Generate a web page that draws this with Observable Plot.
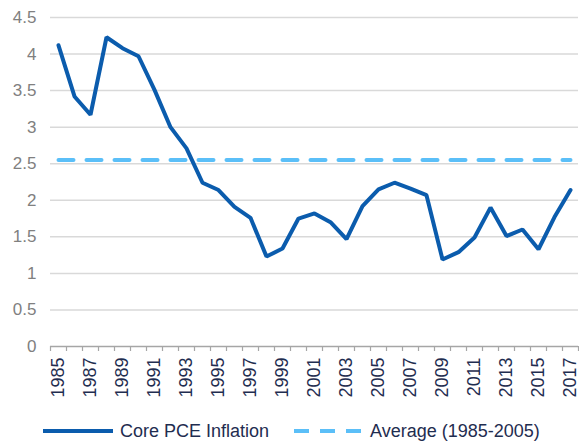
<!DOCTYPE html>
<html>
<head>
<meta charset="utf-8">
<script src="https://cdn.jsdelivr.net/npm/d3@7"></script>
<script src="https://cdn.jsdelivr.net/npm/@observablehq/plot@0.6"></script>
<style>
  body { margin: 0; background: #fff; font-family: "Liberation Sans", Arial, sans-serif; }
  #legend { display: flex; align-items: center; height: 20px; margin-top: 20px; padding-left: 43px; font-size: 18px; color: #1f2d50; }
  #legend svg { display: block; }
</style>
</head>
<body>
<div id="chart"></div>
<div id="legend">
  <svg width="70" height="8"><line x1="0" x2="70" y1="4" y2="4" stroke="#0b5cad" stroke-width="4"/></svg>
  <span style="margin-left:7px">Core PCE Inflation</span>
  <svg width="68" height="8" style="margin-left:25px"><line x1="0" x2="68" y1="4" y2="4" stroke="#5bbff8" stroke-width="4" stroke-dasharray="15,11"/></svg>
  <span style="margin-left:8px">Average (1985-2005)</span>
</div>
<script>
const years = d3.range(1985, 2018);
const corePCE = [4.12, 3.42, 3.17, 4.23, 4.08, 3.97, 3.51, 3.00, 2.71, 2.24, 2.14, 1.91, 1.76, 1.23, 1.34,
                 1.75, 1.82, 1.70, 1.47, 1.92, 2.15, 2.24, 2.16, 2.07, 1.19, 1.29, 1.49, 1.90, 1.51, 1.60,
                 1.33, 1.77, 2.14];
const average = 2.55;
const yTicks = [0, 0.5, 1, 1.5, 2, 2.5, 3, 3.5, 4, 4.5];
const yearLabels = years.filter(y => y % 2 === 1);
const boundaries = d3.range(1984.5, 2018, 1);

const data = years.map((y, i) => ({year: y, value: corePCE[i]}));

const chart = Plot.plot({
  width: 579,
  height: 401,
  marginLeft: 50,
  marginRight: 1,
  marginTop: 17,
  marginBottom: 55,
  style: {fontFamily: "Liberation Sans, Arial, sans-serif", background: "#fff"},
  x: {type: "linear", domain: [1984.5, 2017.5], axis: null},
  y: {domain: [0, 4.5], axis: null},
  marks: [
    Plot.ruleY(yTicks.filter(d => d > 0), {stroke: "#d9d9d9", strokeWidth: 1.5}),
    Plot.ruleY([0], {stroke: "#a6a6a6", strokeWidth: 1.5}),
    Plot.axisX({ticks: boundaries, tickSize: 5, tickFormat: () => "", label: null, stroke: "#a6a6a6", strokeWidth: 1.2}),
    Plot.text(yTicks, {y: d => d, text: d => String(d), frameAnchor: "left", textAnchor: "end", dx: -14, fill: "#808080", fontSize: 17}),
    Plot.text(yearLabels, {x: d => d, y: () => 0, text: d => String(d), rotate: -90, textAnchor: "end", lineAnchor: "middle", dy: 11, fill: "#1f2d50", fontSize: 18}),
    Plot.lineY(years, {x: d => d, y: () => average, stroke: "#5bbff8", strokeWidth: 4, strokeDasharray: "15,13"}),
    Plot.lineY(data, {x: "year", y: "value", stroke: "#0b5cad", strokeWidth: 4, strokeLinejoin: "miter"})
  ]
});
document.getElementById("chart").appendChild(chart);
</script>
</body>
</html>
